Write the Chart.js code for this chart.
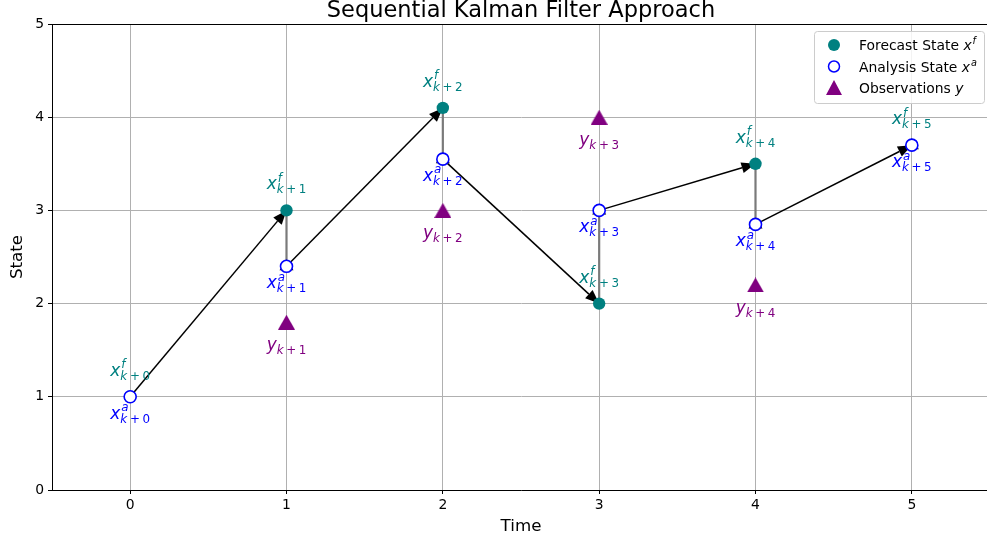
<!DOCTYPE html>
<html><head><meta charset="utf-8">
<script src="https://cdn.jsdelivr.net/npm/chart.js@4/dist/chart.umd.min.js"></script>
<style>html,body{margin:0;padding:0;overflow:hidden;background:#fff}#c{position:absolute;left:0;top:0}</style>
</head><body><canvas id="c" width="999" height="545" style="width:999px;height:545px"></canvas>
<script>
const timeSteps = [0, 1, 2, 3, 4, 5];
const forecastState = [1.0, 3.0, 4.1, 2.0, 3.5, 3.7];
const analysisState = [1.0, 2.4, 3.55, 3.0, 2.85, 3.7];
const obsTimes = [1, 2, 3, 4];
const observations = [1.8, 3.0, 4.0, 2.2];
const xTickValues = [0, 1, 2, 3, 4, 5];
const yTickValues = [0, 1, 2, 3, 4, 5];
const chartTitle = 'Sequential Kalman Filter Approach';
const xAxisTitle = 'Time';
const yAxisTitle = 'State';
const legendTexts = ['Forecast State ', 'Analysis State ', 'Observations '];
const legendMath = [['x', 'f'], ['x', 'a'], ['y', '']];

const TEAL = '#008080', BLUE = '#0000ff', PURPLE = '#800080';
const FONT = '"DejaVu Sans", sans-serif';

function pts(xs, ys) { return xs.map((x, i) => ({x: x, y: ys[i]})); }

function triangleImage(w, h, color) {
  const c = document.createElement('canvas');
  c.width = w; c.height = h;
  const g = c.getContext('2d');
  g.fillStyle = color;
  g.beginPath(); g.moveTo(w / 2, 0); g.lineTo(w, h); g.lineTo(0, h); g.closePath(); g.fill();
  return c;
}
const triImg = triangleImage(17, 15, PURPLE);

function drawMath(ctx, cx, baseline, base, sup, idx, color, size) {
  const s2 = size * 0.7;
  const fIt = 'italic ' + size + 'px ' + FONT;
  const sIt = 'italic ' + s2 + 'px ' + FONT;
  const sRm = s2 + 'px ' + FONT;
  ctx.font = fIt; const wBase = ctx.measureText(base).width;
  ctx.font = sIt; const wSup = sup ? ctx.measureText(sup).width : 0; const wK = ctx.measureText('k').width;
  ctx.font = sRm; const wPlus = ctx.measureText('+').width; const wNum = ctx.measureText(String(idx)).width;
  const gap = s2 * 0.22;
  const wSub = wK + gap + wPlus + gap + wNum;
  const total = wBase + Math.max(wSup + 1, wSub);
  let x0 = cx - total / 2;
  ctx.fillStyle = color;
  ctx.textAlign = 'left';
  ctx.textBaseline = 'alphabetic';
  ctx.font = fIt; ctx.fillText(base, x0, baseline);
  if (sup) { ctx.font = sIt; ctx.fillText(sup, x0 + wBase + 1, baseline - size * 0.45); }
  const sb = baseline + size * 0.24;
  let sx = x0 + wBase;
  ctx.font = sIt; ctx.fillText('k', sx, sb); sx += wK + gap;
  ctx.font = sRm; ctx.fillText('+', sx, sb); sx += wPlus + gap;
  ctx.fillText(String(idx), sx, sb);
}

function arrow(ctx, x1, y1, x2, y2, hl, hw) {
  const ang = Math.atan2(y2 - y1, x2 - x1);
  const bx = x2 - hl * Math.cos(ang), by = y2 - hl * Math.sin(ang);
  ctx.strokeStyle = '#000'; ctx.lineWidth = 1.5;
  ctx.beginPath(); ctx.moveTo(x1, y1); ctx.lineTo(bx, by); ctx.stroke();
  const px = -Math.sin(ang), py = Math.cos(ang);
  ctx.fillStyle = '#000';
  ctx.beginPath();
  ctx.moveTo(x2, y2);
  ctx.lineTo(bx + px * hw / 2, by + py * hw / 2);
  ctx.lineTo(bx - px * hw / 2, by - py * hw / 2);
  ctx.closePath(); ctx.fill();
}

const overlay = {
  id: 'overlay',
  beforeDatasetsDraw(chart) {
    const ctx = chart.ctx, xs = chart.scales.x, ys = chart.scales.y;
    ctx.save();
    for (let i = 1; i < timeSteps.length; i++) {
      const x = xs.getPixelForValue(timeSteps[i]);
      const yf = ys.getPixelForValue(forecastState[i]);
      const ya = ys.getPixelForValue(analysisState[i]);
      ctx.strokeStyle = '#7a7a7a'; ctx.lineWidth = 2.2;
      ctx.beginPath(); ctx.moveTo(x, yf); ctx.lineTo(x, ya); ctx.stroke();
      ctx.fillStyle = '#000';
      ctx.beginPath(); ctx.moveTo(x, ya - 7); ctx.lineTo(x + 7, ya + 4); ctx.lineTo(x - 7, ya + 4); ctx.closePath(); ctx.fill();
    }
    for (let i = 0; i < timeSteps.length - 1; i++) {
      arrow(ctx,
        xs.getPixelForValue(timeSteps[i]), ys.getPixelForValue(analysisState[i]),
        xs.getPixelForValue(timeSteps[i + 1]), ys.getPixelForValue(forecastState[i + 1]), 14, 11);
    }
    ctx.restore();
  },
  afterDraw(chart) {
    const ctx = chart.ctx, xs = chart.scales.x, ys = chart.scales.y, ca = chart.chartArea;
    ctx.save();
    ctx.strokeStyle = '#000'; ctx.lineWidth = 1;
    ctx.beginPath(); ctx.moveTo(ca.left, Math.round(ca.top) + 0.5); ctx.lineTo(ca.right, Math.round(ca.top) + 0.5); ctx.stroke();
    for (let i = 0; i < timeSteps.length; i++) {
      const x = xs.getPixelForValue(timeSteps[i]);
      drawMath(ctx, x, ys.getPixelForValue(forecastState[i]) - 21, 'x', 'f', timeSteps[i], TEAL, 17);
      drawMath(ctx, x, ys.getPixelForValue(analysisState[i]) + 22, 'x', 'a', timeSteps[i], BLUE, 17);
    }
    for (let i = 0; i < obsTimes.length; i++) {
      drawMath(ctx, xs.getPixelForValue(obsTimes[i]), ys.getPixelForValue(observations[i]) + 28, 'y', '', obsTimes[i], PURPLE, 17);
    }
    ctx.fillStyle = '#000'; ctx.font = '22.5px ' + FONT; ctx.textAlign = 'center'; ctx.textBaseline = 'alphabetic';
    ctx.fillText(chartTitle, (ca.left + ca.right) / 2, 17);
    const lx = 814, ly = 31, lw = 170, lh = 72;
    ctx.fillStyle = 'rgba(255,255,255,0.85)'; ctx.strokeStyle = '#cccccc'; ctx.lineWidth = 1;
    ctx.beginPath(); ctx.roundRect(lx + 0.5, ly + 0.5, lw, lh, 3); ctx.fill(); ctx.stroke();
    const rows = [45, 66.5, 88];
    ctx.fillStyle = TEAL; ctx.beginPath(); ctx.arc(834, rows[0], 6, 0, Math.PI * 2); ctx.fill();
    ctx.fillStyle = '#fff'; ctx.strokeStyle = BLUE; ctx.lineWidth = 1.5;
    ctx.beginPath(); ctx.arc(834, rows[1], 5.5, 0, Math.PI * 2); ctx.fill(); ctx.stroke();
    ctx.fillStyle = PURPLE; ctx.beginPath(); ctx.moveTo(834, rows[2] - 8); ctx.lineTo(842, rows[2] + 7); ctx.lineTo(826, rows[2] + 7); ctx.closePath(); ctx.fill();
    for (let r = 0; r < 3; r++) {
      const bl = rows[r] + 5;
      ctx.fillStyle = '#000'; ctx.textAlign = 'left'; ctx.textBaseline = 'alphabetic';
      ctx.font = '13.9px ' + FONT;
      ctx.fillText(legendTexts[r], 859, bl);
      let w = ctx.measureText(legendTexts[r]).width;
      ctx.font = 'italic 13.9px ' + FONT;
      ctx.fillText(legendMath[r][0], 859 + w, bl);
      const wb = ctx.measureText(legendMath[r][0]).width;
      if (legendMath[r][1]) {
        ctx.font = 'italic 9.7px ' + FONT;
        ctx.fillText(legendMath[r][1], 859 + w + wb + 1, bl - 6);
      }
    }
    ctx.restore();
  }
};

new Chart(document.getElementById('c'), {
  type: 'scatter',
  data: {
    datasets: [
      {label: 'Analysis State', data: pts(timeSteps, analysisState), order: 0,
       pointRadius: 6, pointHoverRadius: 6, backgroundColor: '#ffffff', borderColor: BLUE, borderWidth: 1.6},
      {label: 'Observations', data: pts(obsTimes, observations), order: 1, pointStyle: triImg,
       pointRadius: 9, pointHoverRadius: 9, backgroundColor: PURPLE, borderColor: PURPLE, borderWidth: 0},
      {label: 'Forecast State', data: pts(timeSteps, forecastState), order: 2,
       pointRadius: 6.2, pointHoverRadius: 6.2, backgroundColor: TEAL, borderColor: TEAL, borderWidth: 0}
    ]
  },
  options: {
    responsive: false, maintainAspectRatio: false, animation: false, devicePixelRatio: 1,
    layout: {padding: {top: 24, right: 5, left: 0, bottom: 0}},
    events: [],
    plugins: {legend: {display: false}, title: {display: false}, tooltip: {enabled: false}},
    scales: {
      x: {
        type: 'linear', min: -0.5, max: 5.5,
        afterBuildTicks: s => { s.ticks = xTickValues.map(v => ({value: v})); },
        afterFit: s => { s.height = 55; s.paddingLeft = 0; s.paddingRight = 0; },
        ticks: {color: '#000', font: {family: 'DejaVu Sans', size: 13.9}, padding: 3, maxRotation: 0},
        grid: {color: '#b0b0b0', lineWidth: 1, tickColor: '#000', tickLength: 4},
        border: {color: '#000', width: 1},
        title: {display: true, text: xAxisTitle, color: '#000', font: {family: 'DejaVu Sans', size: 16.7}, padding: {top: 0, bottom: 8}}
      },
      y: {
        type: 'linear', min: 0, max: 5,
        afterBuildTicks: s => { s.ticks = yTickValues.map(v => ({value: v})); },
        afterFit: s => { s.width = 52; s.paddingTop = 0; s.paddingBottom = 0; },
        ticks: {color: '#000', font: {family: 'DejaVu Sans', size: 13.9}, padding: 4},
        grid: {color: '#b0b0b0', lineWidth: 1, tickColor: '#000', tickLength: 4},
        border: {color: '#000', width: 1},
        title: {display: true, text: yAxisTitle, color: '#000', font: {family: 'DejaVu Sans', size: 16.7}, padding: {top: 8, bottom: 0}}
      }
    }
  },
  plugins: [overlay]
});
</script>
</body></html>
